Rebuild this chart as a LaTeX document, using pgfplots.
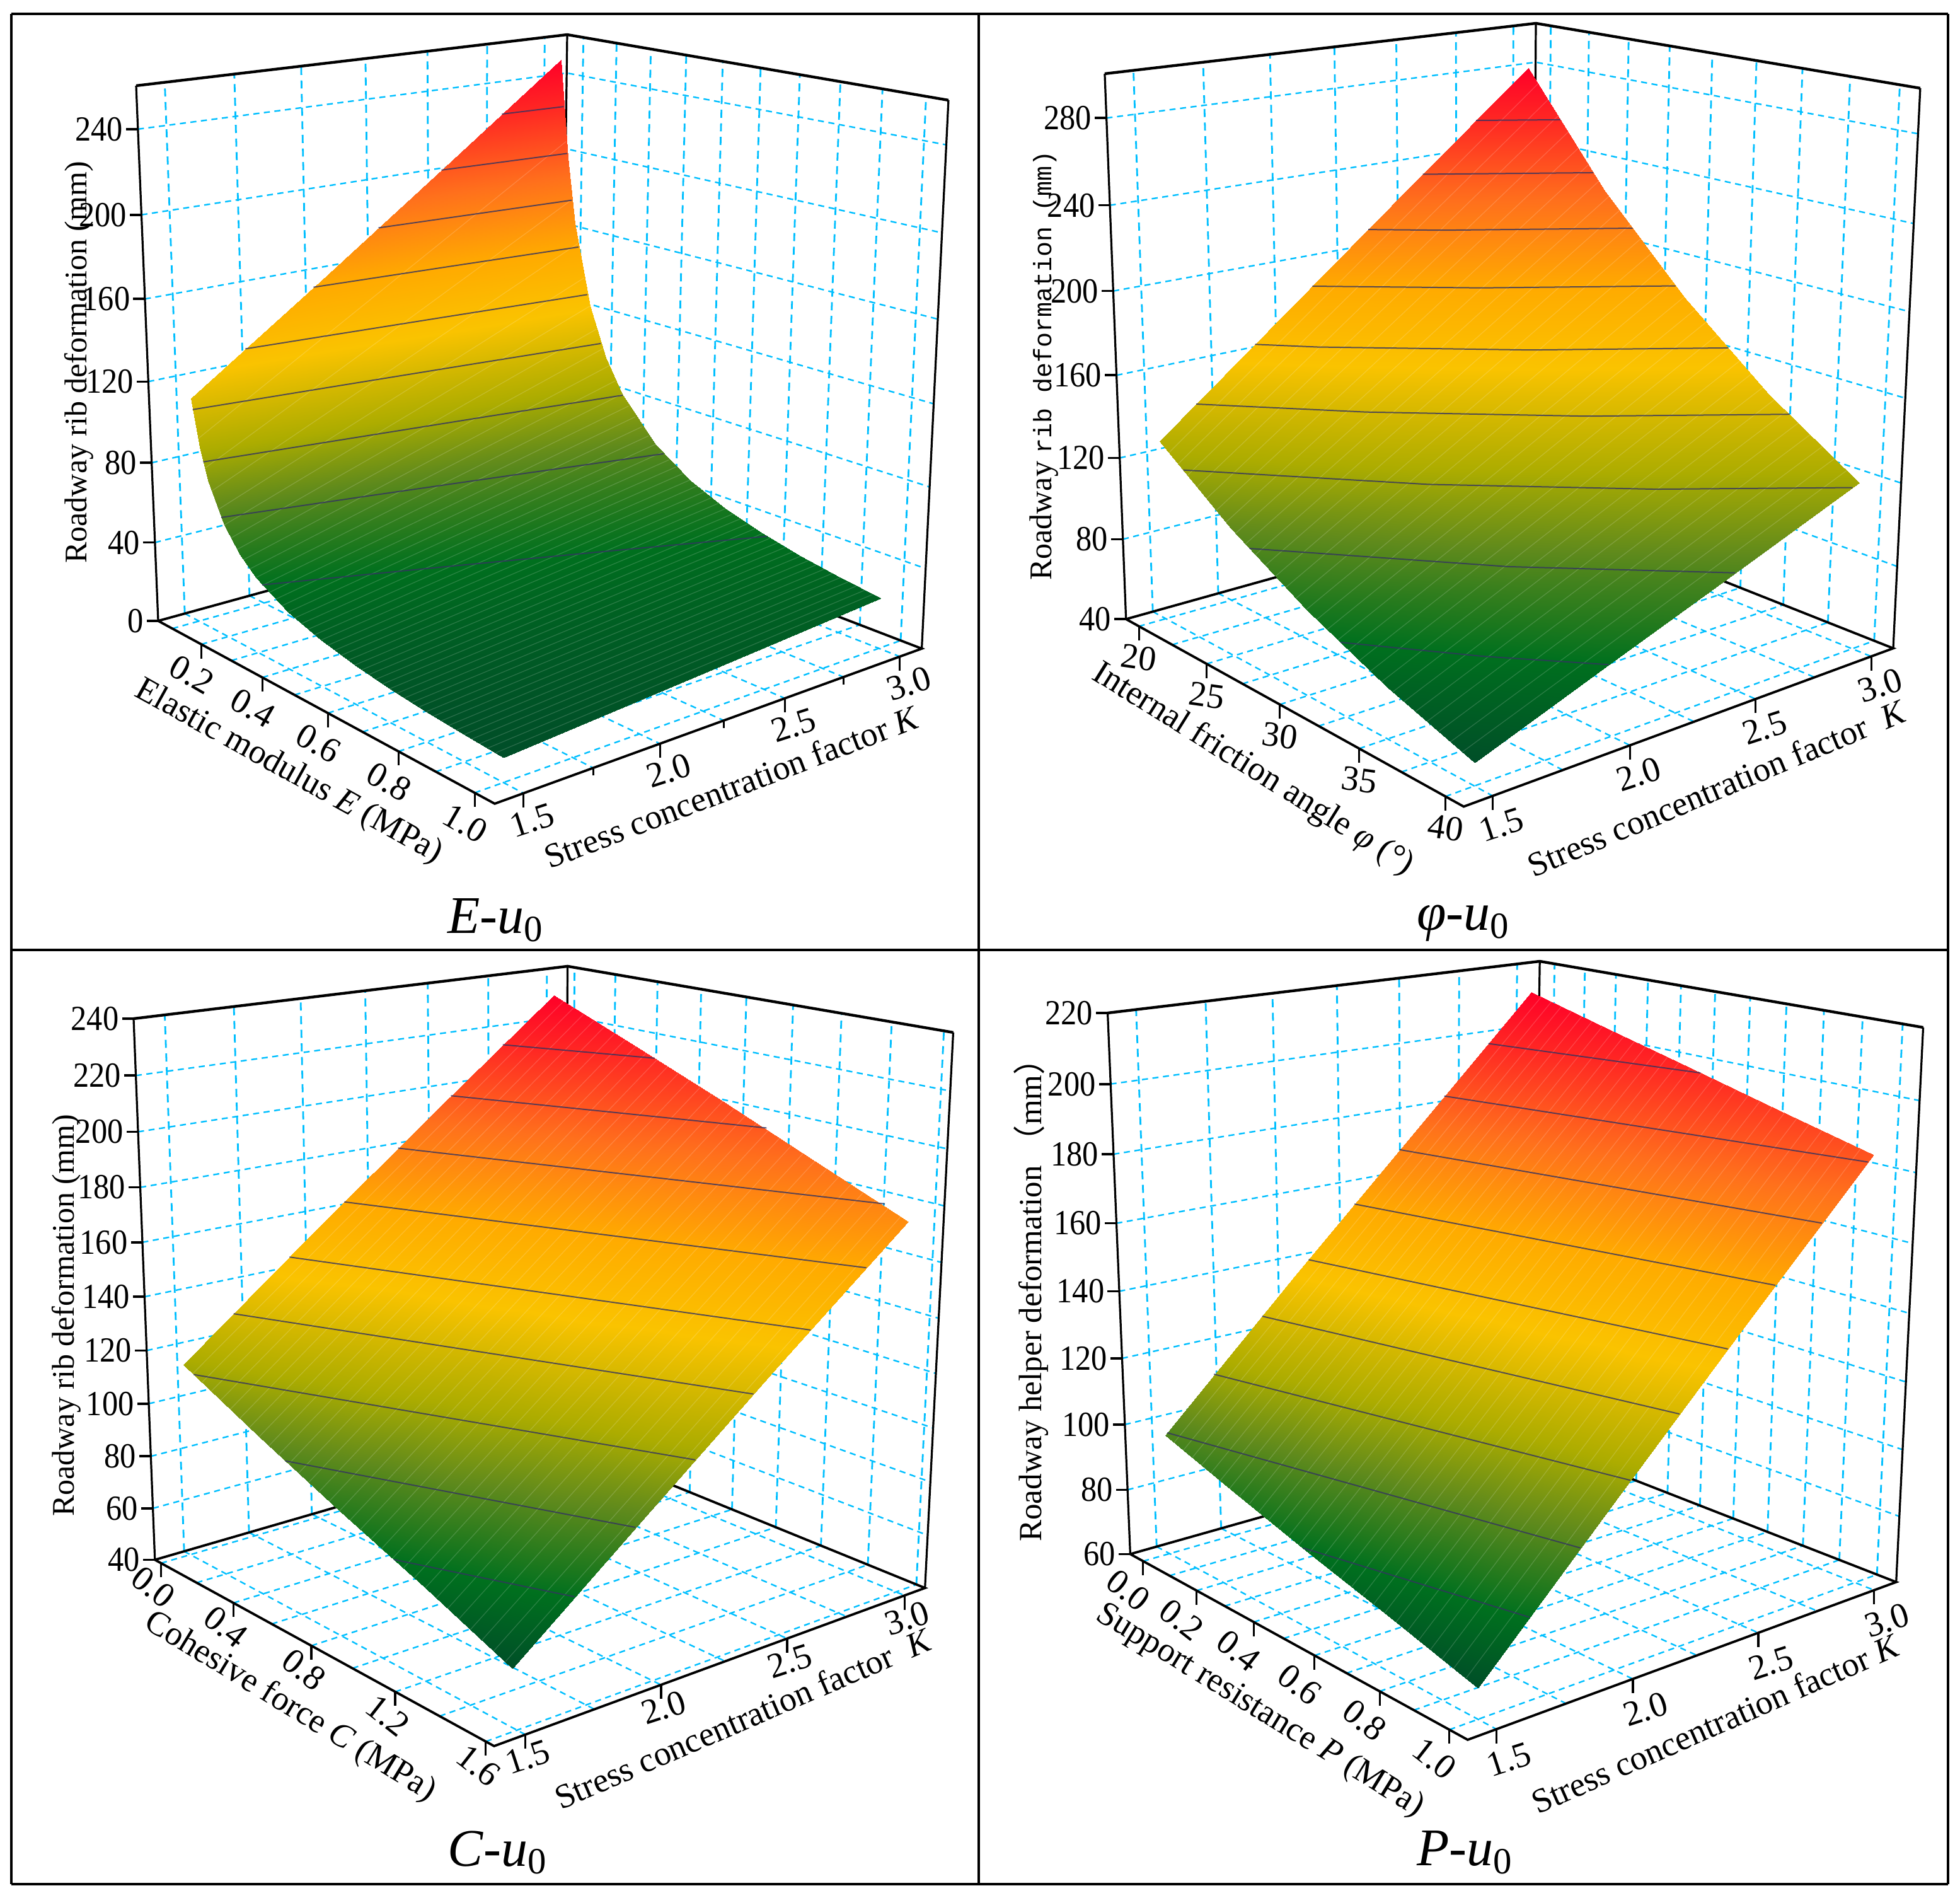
\documentclass[border=0pt]{standalone}
\usepackage{fontspec}
\setmainfont{Liberation Serif}
\newfontfamily\cjk{Noto Sans CJK SC}
\newfontfamily\lmono{Liberation Mono}
\usepackage{pgfplots}
\usepackage{pgfplotstable}
\pgfplotsset{compat=1.18}

% ---- perspective of the box: numbers are corner pixels of each panel
\newcommand\setpts[8]{\gdef\Bx{#1}\gdef\By{#2}\gdef\Lx{#3}\gdef\Ly{#4}\gdef\Rx{#5}\gdef\Ry{#6}\gdef\Fx{#7}\gdef\Fy{#8}}
\newcommand\settop[7]{\gdef\BTx{#1}\gdef\BTy{#2}\gdef\LTx{#3}\gdef\LTy{#4}\gdef\RTx{#5}\gdef\RTy{#6}\gdef\rr{#7}}
\newcommand\setlim[6]{\gdef\Kmin{#1}\gdef\Kmax{#2}\gdef\Xmin{#3}\gdef\Xmax{#4}\gdef\Zmin{#5}\gdef\Zmax{#6}}
\newcommand\computecam{%
 \xdef\detv{\fpeval{(\Fx-\Lx)*(\Fy-\Ry)-(\Fx-\Rx)*(\Fy-\Ly)}}%
 \xdef\rhx{\fpeval{\Lx+\Rx-\Bx-\Fx}}\xdef\rhy{\fpeval{\Ly+\Ry-\By-\Fy}}%
 \xdef\pp{\fpeval{round((\rhx*(\Fy-\Ry)-(\Fx-\Rx)*\rhy)/\detv,5)}}%
 \xdef\qq{\fpeval{round(((\Fx-\Lx)*\rhy-(\Fy-\Ly)*\rhx)/\detv,5)}}%
 \xdef\Ux{\fpeval{round(\Lx*(1+\pp)-\Bx,3)}}\xdef\Uy{\fpeval{round(\Ly*(1+\pp)-\By,3)}}%
 \xdef\Vx{\fpeval{round(\Rx*(1+\qq)-\Bx,3)}}\xdef\Vy{\fpeval{round(\Ry*(1+\qq)-\By,3)}}%
 \xdef\Wx{\fpeval{round(\BTx*(1+\rr)-\Bx,3)}}\xdef\Wy{\fpeval{round(\BTy*(1+\rr)-\By,3)}}%
 \xdef\dLx{\fpeval{round(\LTx-(\Bx+\Ux+\Wx)/(1+\pp+\rr),3)}}\xdef\dLy{\fpeval{round(\LTy-(\By+\Uy+\Wy)/(1+\pp+\rr),3)}}%
 \xdef\dRx{\fpeval{round(\RTx-(\Bx+\Vx+\Wx)/(1+\qq+\rr),3)}}\xdef\dRy{\fpeval{round(\RTy-(\By+\Vy+\Wy)/(1+\qq+\rr),3)}}%
}
\newcommand\cu[1]{((\Kmax-(#1))/(\Kmax-\Kmin))}
\newcommand\cv[1]{(((#1)-\Xmin)/(\Xmax-\Xmin))}
\newcommand\cc[1]{(((#1)-\Zmin)/(\Zmax-\Zmin))}
\newcommand\camXe[3]{((\Bx+\Ux*#1+\Vx*#2+\Wx*#3)/(1+\pp*#1+\qq*#2+\rr*#3)+#3*(#1*\dLx+#2*\dRx))}
\newcommand\camYe[3]{(3011-((\By+\Uy*#1+\Vy*#2+\Wy*#3)/(1+\pp*#1+\qq*#2+\rr*#3)+#3*(#1*\dLy+#2*\dRy)))}
\newcommand\TX[3]{\fpeval{\camXe{\cu{#1}}{\cv{#2}}{\cc{#3}}}}
\newcommand\TY[3]{\fpeval{\camYe{\cu{#1}}{\cv{#2}}{\cc{#3}}}}
\newcommand\Pt[3]{(axis cs:{\TX{#1}{#2}{#3}},{\TY{#1}{#2}{#3}},0)}
\newcommand\Px[2]{(axis cs:{#1},{\fpeval{3011-#2}},0)}

\pgfplotsset{
 table/camt/.style={
  x expr={\camXe{\cu{\thisrow{K}}}{\cv{\thisrow{X}}}{\cc{\thisrow{U}}}},
  y expr={\camYe{\cu{\thisrow{K}}}{\cv{\thisrow{X}}}{\cc{\thisrow{U}}}},
  z=U},
 panel/.style n args={4}{
  at={(\fpeval{#1*0.25}pt,\fpeval{(3011-#4)*0.25}pt)},anchor=south west,
  scale only axis,width=\fpeval{(#3-#1)*0.25}pt,height=\fpeval{(#4-#2)*0.25}pt,
  xmin=#1,xmax=#3,ymin=\fpeval{3011-#4},ymax=\fpeval{3011-#2},
  view={0}{90},xtick=\empty,ytick=\empty,ztick=\empty,
  axis line style={line width=1.18pt,black},clip=false},
 colormap={ug}{rgb255(0cm)=(0,78,40);rgb255(10cm)=(0,112,30);rgb255(22cm)=(95,138,28);rgb255(32cm)=(172,172,0);
   rgb255(47cm)=(250,195,0);rgb255(60cm)=(255,170,0);rgb255(75cm)=(255,112,28);rgb255(90cm)=(255,40,35);rgb255(100cm)=(255,0,40)},
}
\definecolor{gridc}{RGB}{0,191,255}
\tikzset{
 gv/.style={draw=gridc,line width=.7pt,dash pattern=on 3.2pt off 2.2pt,mark=none},
 gh/.style={draw=gridc,line width=.6pt,dash pattern=on 2.4pt off 1.8pt,mark=none},
 ftop/.style={draw=black,line width=1.1pt,mark=none},
 fver/.style={draw=black,line width=.8pt,mark=none},
 fbot/.style={draw=black,line width=.95pt,mark=none},
 tk/.style={draw=black,line width=.8pt},
 ctrline/.style={draw=black!70!blue!60!gray,line width=.5pt,opacity=.8,mark=none},
 stripe/.style={draw=white,opacity=.17,line width=.3pt,mark=none},
}
\newcommand\tlf{\fontsize{14}{14}\selectfont}
\newcommand\ttf{\fontsize{13.6}{14}\selectfont}
\newcommand\ytf{\fontsize{12.5}{14}\selectfont}
\newcommand\plf{\fontsize{21}{21}\selectfont}

\newcommand\ctr[1]{\addplot3[ctrline] table[camt,row sep=\\]{K X U\\ #1};}
% thin lines of the fine mesh: from K=1.5 (column A) to K=3 (column B)
\newcommand\stripes[1]{\addplot3[stripe,quiver={
   u={\camXe{\cu{3}}{\cv{\thisrow{X}}}{\cc{\thisrow{B}}}-\camXe{\cu{1.5}}{\cv{\thisrow{X}}}{\cc{\thisrow{A}}}},
   v={\camYe{\cu{3}}{\cv{\thisrow{X}}}{\cc{\thisrow{B}}}-\camYe{\cu{1.5}}{\cv{\thisrow{X}}}{\cc{\thisrow{A}}}},
   w={\thisrow{B}-\thisrow{A}}}] table[
   x expr={\camXe{\cu{1.5}}{\cv{\thisrow{X}}}{\cc{\thisrow{A}}}},
   y expr={\camYe{\cu{1.5}}{\cv{\thisrow{X}}}{\cc{\thisrow{A}}}},z=A]{#1};}
% Kmin Kmax Xmin Xmax Zmin Zmax | K lines | X lines | Z lines
\newcommand\panelgrid[9]{%
 \pgfplotsinvokeforeach{#7}{%
  \addplot3[gv] table[camt,row sep=\\]{K X U\\ ##1 #3 #5\\ ##1 #3 #6\\};
  \addplot3[gh] table[camt,row sep=\\]{K X U\\ ##1 #3 #5\\ ##1 #4 #5\\};}%
 \pgfplotsinvokeforeach{#8}{%
  \addplot3[gv] table[camt,row sep=\\]{K X U\\ #2 ##1 #5\\ #2 ##1 #6\\};
  \addplot3[gh] table[camt,row sep=\\]{K X U\\ #1 ##1 #5\\ #2 ##1 #5\\};}%
 \pgfplotsinvokeforeach{#9}{%
  \addplot3[gh] table[camt,row sep=\\]{K X U\\ #1 #3 ##1\\ #2 #3 ##1\\ #2 #4 ##1\\};}%
 \addplot3[ftop] table[camt,row sep=\\]{K X U\\ #1 #3 #6\\ #2 #3 #6\\ #2 #4 #6\\};
 \addplot3[fver] table[camt,row sep=\\]{K X U\\ #1 #3 #5\\ #1 #3 #6\\};
 \addplot3[fver] table[camt,row sep=\\]{K X U\\ #2 #3 #5\\ #2 #3 #6\\};
 \addplot3[fver] table[camt,row sep=\\]{K X U\\ #2 #4 #5\\ #2 #4 #6\\};
 \addplot3[fbot] table[camt,row sep=\\]{K X U\\ #1 #3 #5\\ #2 #3 #5\\ #2 #4 #5\\ #1 #4 #5\\ #1 #3 #5\\};
}
% tick marks and labels
\newcommand\zticks[1]{\pgfplotsinvokeforeach{#1}{%
  \draw[tk,line width=.9pt] \Pt{\Kmin}{\Xmin}{##1} -- ++(-4.6pt,0pt) node[anchor=east,inner sep=1pt,font=\tlf,xscale=.9]{##1};}}
\newcommand\xticks[4]{\pgfplotsinvokeforeach{#1}{%
  \draw[tk] \Pt{\Kmin}{##1}{\Zmin} -- ++(0pt,-5.6pt);
  \node[xshift=#2*0.25pt,yshift=-#3*0.25pt,rotate=#4,inner sep=0pt,font=\tlf] at \Pt{\Kmin}{##1}{\Zmin} {##1};}}
\newcommand\kticks[4]{\pgfplotsinvokeforeach{#1}{%
  \draw[tk] \Pt{##1}{\Xmax}{\Zmin} -- ++(0pt,-5.6pt);
  \node[xshift=#2*0.25pt,yshift=-#3*0.25pt,rotate=#4,inner sep=0pt,font=\tlf] at \Pt{##1}{\Xmax}{\Zmin} {##1};}}

% ---- surfaces: K, second parameter, deformation
\pgfplotstableread{
K X U
1.5 0.1 112
2 0.1 157
2.5 0.1 203
3 0.1 250
1.5 0.125 89.6
2 0.125 125.6
2.5 0.125 162.4
3 0.125 200
1.5 0.15 74.7
2 0.15 104.7
2.5 0.15 135.3
3 0.15 166.7
1.5 0.2 56
2 0.2 78.5
2.5 0.2 101.5
3 0.2 125
1.5 0.25 44.8
2 0.25 62.8
2.5 0.25 81.2
3 0.25 100
1.5 0.3 37.3
2 0.3 52.3
2.5 0.3 67.7
3 0.3 83.3
1.5 0.4 28
2 0.4 39.3
2.5 0.4 50.8
3 0.4 62.5
1.5 0.5 22.4
2 0.5 31.4
2.5 0.5 40.6
3 0.5 50
1.5 0.6 18.7
2 0.6 26.2
2.5 0.6 33.8
3 0.6 41.7
1.5 0.7 16
2 0.7 22.4
2.5 0.7 29
3 0.7 35.7
1.5 0.8 14
2 0.8 19.6
2.5 0.8 25.4
3 0.8 31.3
1.5 0.9 12.4
2 0.9 17.4
2.5 0.9 22.6
3 0.9 27.8
1.5 1.0 11.2
2 1.0 15.7
2.5 1.0 20.3
3 1.0 25
}\tabE
\pgfplotstableread{
K X U
1.5 20 128
2 20 178.7
2.5 20 229.3
3 20 280
1.5 25 101.4
2 25 143.3
2.5 25 185
3 25 226.8
1.5 30 80.2
2 30 114.7
2.5 30 149.1
3 30 183.6
1.5 35 63.5
2 35 91.9
2.5 35 120.3
3 35 148.7
1.5 40 50.3
2 40 73.7
2.5 40 97
3 40 120.4
}\tabF
\pgfplotstableread{
K X U
1.5 0 113
2 0 152
2.5 0 191
3 0 230
1.5 0.4 98.5
2 0.4 137.7
2.5 0.4 176.8
3 0.4 216.1
1.5 0.8 85
2 0.8 124
2.5 0.8 163.1
3 0.8 202.2
1.5 1.2 72.5
2 1.2 111
2.5 1.2 149.7
3 1.2 188.2
1.5 1.58 60
2 1.58 98.3
2.5 1.58 136.7
3 1.58 175
}\tabC
\pgfplotstableread{
K X U
1.5 0 96.6
2 0 135.1
2.5 0 173.5
3 0 212
1.5 0.25 89.3
2 0.25 127.9
2.5 0.25 166.6
3 0.25 205.25
1.5 0.5 82.3
2 0.5 121
2.5 0.5 159.8
3 0.5 198.5
1.5 0.75 75.4
2 0.75 114.2
2.5 0.75 153
3 0.75 191.75
1.5 1 68.5
2 1 107.3
2.5 1 146.2
3 1 185
}\tabP
% ---- fine mesh lines: parameter, deformation at K=1.5, deformation at K=3
\pgfplotstableread{
X A B
0.12 93.3 208.3
0.14 80 178.6
0.16 70 156.3
0.18 62.2 138.9
0.20 56 125
0.22 50.9 113.6
0.24 46.7 104.2
0.26 43.1 96.2
0.28 40 89.3
0.30 37.3 83.3
0.32 35 78.1
0.34 32.9 73.5
0.36 31.1 69.4
0.38 29.5 65.8
0.40 28 62.5
0.42 26.7 59.5
0.44 25.5 56.8
0.46 24.3 54.3
0.48 23.3 52.1
0.50 22.4 50
0.52 21.5 48.1
0.54 20.7 46.3
0.56 20 44.6
0.58 19.3 43.1
0.60 18.7 41.7
0.62 18.1 40.3
0.64 17.5 39.1
0.66 17 37.9
0.68 16.5 36.8
0.70 16 35.7
0.72 15.6 34.7
0.74 15.1 33.8
0.76 14.7 32.9
0.78 14.4 32.1
0.80 14 31.3
0.82 13.7 30.5
0.84 13.3 29.8
0.86 13 29.1
0.88 12.7 28.4
0.90 12.4 27.8
0.92 12.2 27.2
0.94 11.9 26.6
0.96 11.7 26
0.98 11.4 25.5
}\mshE
\pgfplotstableread{
X A B
20.67 124.4 272.9
21.33 120.9 265.8
22 117.4 258.7
22.67 113.8 251.6
23.33 110.3 244.5
24 106.7 237.4
24.67 103.2 230.3
25.33 100 224
26 97.2 218.2
26.67 94.3 212.4
27.33 91.5 206.7
28 88.7 200.9
28.67 85.8 195.1
29.33 83 189.4
30 80.2 183.6
30.67 78 178.9
31.33 75.8 174.3
32 73.5 169.6
32.67 71.3 165
33.33 69.1 160.4
34 66.8 155.7
34.67 64.6 151
35.33 62.6 146.8
36 60.9 143
36.67 59.1 139.2
37.33 57.3 135.5
38 55.6 131.7
38.67 53.8 127.9
39.33 52.1 124.2
}\mshF
\pgfplotstableread{
X A B
0.05 111.2 228.3
0.1 109.4 226.5
0.15 107.6 224.8
0.2 105.8 223
0.25 103.9 221.3
0.3 102.1 219.5
0.35 100.3 217.8
0.4 98.5 216.1
0.45 96.8 214.4
0.5 95.1 212.6
0.55 93.4 210.9
0.6 91.8 209.2
0.65 90.1 207.4
0.7 88.4 205.7
0.75 86.7 203.9
0.8 85 202.2
0.85 83.4 200.5
0.9 81.9 198.7
0.95 80.3 197
1.0 78.8 195.2
1.05 77.2 193.4
1.1 75.6 191.7
1.15 74.1 189.9
1.2 72.5 188.2
1.25 70.9 186.4
1.3 69.2 184.7
1.35 67.6 183
1.4 65.9 181.2
1.45 64.3 179.5
1.5 62.6 177.7
1.55 61 176
}\mshC
\pgfplotstableread{
X A B
0.033 95.6 211.1
0.067 94.6 210.2
0.1 93.7 209.3
0.133 92.7 208.4
0.167 91.7 207.5
0.2 90.8 206.6
0.233 89.8 205.7
0.267 88.8 204.8
0.3 87.9 203.9
0.333 87 203
0.367 86.1 202.1
0.4 85.1 201.2
0.433 84.2 200.3
0.467 83.2 199.4
0.5 82.3 198.5
0.533 81.4 197.6
0.567 80.5 196.7
0.6 79.5 195.8
0.633 78.6 194.9
0.667 77.7 194
0.7 76.8 193.1
0.733 75.9 192.2
0.767 74.9 191.3
0.8 74 190.4
0.833 73.1 189.5
0.867 72.2 188.6
0.9 71.3 187.7
0.933 70.4 186.8
0.967 69.4 185.9
}\mshP

\begin{document}
\begin{tikzpicture}
\path[use as bounding box] (0,0) rectangle (777.5pt,752.75pt);

% ======== E-u0
\setpts{890}{809}{251}{985}{1462.5}{1029}{785}{1275}
\settop{900}{55}{216}{136}{1505}{159}{-0.05}
\setlim{1.4}{3.1}{0.05}{1.05}{0}{260}
\computecam
\begin{axis}[panel={18}{22}{1553}{1507},point meta min=11.2,point meta max=250,colormap name=ug]
\panelgrid{1.4}{3.1}{0.05}{1.05}{0}{260}{1.5,1.75,2,2.25,2.5,2.75,3}{0.1,0.2,0.3,0.4,0.5,0.6,0.7,0.8,0.9,1.0}{40,80,120,160,200,240}
\addplot3[surf,shader=interp,mesh/rows=13,mesh/cols=4] table[camt]{\tabE};
\stripes{\mshE}
\ctr{1.5 0.319 35.1\\ 2 0.447 35.1\\ 2.5 0.578 35.1\\ 3 0.712 35.1\\}
\ctr{1.5 0.19 59\\ 2 0.266 59\\ 2.5 0.344 59\\ 3 0.424 59\\}
\ctr{1.5 0.135 82.8\\ 2 0.19 82.8\\ 2.5 0.245 82.8\\ 3 0.302 82.8\\}
\ctr{1.5 0.105 106.7\\ 2 0.147 106.7\\ 2.5 0.19 106.7\\ 3 0.234 106.7\\}
\ctr{1.707 0.1 130.6\\ 2 0.12 130.6\\ 2.5 0.155 130.6\\ 3 0.191 130.6\\}
\ctr{1.972 0.1 154.5\\ 2.5 0.131 154.5\\ 3 0.162 154.5\\}
\ctr{2.232 0.1 178.3\\ 2.5 0.114 178.3\\ 3 0.14 178.3\\}
\ctr{2.491 0.1 202.2\\ 3 0.124 202.2\\}
\ctr{2.746 0.1 226.1\\ 3 0.111 226.1\\}
\zticks{0,40,80,120,160,200,240}
\xticks{0.2,0.4,0.6,0.8,1.0}{-15}{48}{-30}
\kticks{1.5,2.0,2.5,3.0}{14}{43}{18}
\pgfplotsinvokeforeach{1.75,2.25,2.75}{\draw[tk] \Pt{#1}{\Xmax}{\Zmin} -- ++(0pt,-3pt);}
\node[rotate=-29,font=\ttf] at \Px{458}{1225} {Elastic modulus \textit{E} (MPa)};
\node[rotate=21,font=\ttf] at \Px{1161}{1248} {Stress concentration factor \textit{K}};
\node[rotate=90,font=\ytf] at \Px{125}{575} {Roadway rib deformation (mm)};
\node[font=\plf] at \Px{787}{1460} {\textit{E}-\textit{u}\textsubscript{0}};
\end{axis}

% ======== phi-u0
\setpts{2432}{802}{1786.6}{982.2}{3004}{1028.5}{2322.5}{1279.6}
\settop{2437}{37}{1753}{117}{3047}{140}{-0.05}
\setlim{1.4}{3.1}{19}{41}{40}{300}
\computecam
\begin{axis}[panel={1553}{22}{3091}{1507},point meta min=50.3,point meta max=280,colormap name=ug]
\panelgrid{1.4}{3.1}{19}{41}{40}{300}{1.5,1.75,2,2.25,2.5,2.75,3}{20,22.5,25,27.5,30,32.5,35,37.5,40}{80,120,160,200,240,280}
\addplot3[surf,shader=interp,mesh/rows=5,mesh/cols=4] table[camt]{\tabF};
\stripes{\mshF}
\ctr{1.5 32.16 73\\ 1.75 36.5 73\\ 1.986 40 73\\}
\ctr{1.5 26.27 96\\ 2 34.1 96\\ 2.478 40 96\\}
\ctr{1.5 21.69 119\\ 2 29.25 119\\ 2.5 35.28 119\\ 2.97 40 119\\}
\ctr{1.638 20 142\\ 2 25.23 142\\ 2.5 31.23 142\\ 3 36.18 142\\}
\ctr{1.865 20 165\\ 2 21.94 165\\ 2.5 27.79 165\\ 3 32.66 165\\}
\ctr{2.092 20 188\\ 2.5 24.66 188\\ 3 29.49 188\\}
\ctr{2.319 20 211\\ 2.5 22.07 211\\ 3 26.83 211\\}
\ctr{2.546 20 234\\ 3 24.32 234\\}
\ctr{2.773 20 257\\ 3 22.16 257\\}
\zticks{40,80,120,160,200,240,280}
\xticks{20,25,30,35,40}{0}{50}{-8}
\kticks{1.5,2.0,2.5,3.0}{14}{46}{18}
\node[rotate=-32,font=\ttf] at \Px{1988}{1221} {Internal friction angle \textit{φ} (°)};
\node[rotate=22.8,font=\ttf] at \Px{2724}{1250} {Stress concentration factor~~\textit{K}};
\node[rotate=90,font=\ytf] at \Px{1657}{580} {Roadway {\lmono\fontsize{10}{12}\selectfont rib deformation (mm)}};
\node[font=\plf] at \Px{2322}{1465} {\textit{φ}-\textit{u}\textsubscript{0}};
\end{axis}

% ======== C-u0
\setpts{895}{2286}{245.8}{2474.5}{1467.7}{2519.3}{784}{2770}
\settop{900.6}{1533}{212}{1616}{1512.5}{1638}{-0.05}
\setlim{1.39}{3.09}{-0.035}{1.635}{40}{240}
\computecam
\begin{axis}[panel={18}{1507}{1553}{2989},point meta min=60,point meta max=230,colormap name=ug]
\panelgrid{1.39}{3.09}{-0.035}{1.635}{40}{240}{1.5,1.75,2,2.25,2.5,2.75,3}{0,0.2,0.4,0.6,0.8,1.0,1.2,1.4,1.6}{60,80,100,120,140,160,180,200,220}
\addplot3[surf,shader=interp,mesh/rows=5,mesh/cols=4] table[camt]{\tabC};
\stripes{\mshC}
\ctr{1.5 1.056 77\\ 1.722 1.58 77\\}
\ctr{1.5 0.533 94\\ 1.943 1.58 94\\}
\ctr{1.5 0.055 111\\ 2.165 1.58 111\\}
\ctr{1.692 0 128\\ 2.387 1.58 128\\}
\ctr{1.91 0 145\\ 2.609 1.58 145\\}
\ctr{2.128 0 162\\ 2.83 1.58 162\\}
\ctr{2.346 0 179\\ 3 1.486 179\\}
\ctr{2.564 0 196\\ 3 0.993 196\\}
\ctr{2.782 0 213\\ 3 0.489 213\\}
\zticks{40,60,80,100,120,140,160,180,200,220,240}
\xticks{0.0,0.4,0.8,1.2,1.6}{-12}{38}{-38}
\kticks{1.5,2.0,2.5,3.0}{4}{36}{18}
\node[rotate=-31.4,font=\ttf] at \Px{460}{2708} {Cohesive force \textit{C} (MPa)};
\node[rotate=23.4,font=\ttf] at \Px{1179}{2726} {Stress concentration factor~~\textit{K}};
\node[rotate=90,font=\ytf] at \Px{105}{2087} {Roadway rib deformation (mm)};
\node[font=\plf] at \Px{790}{2939} {\textit{C}-\textit{u}\textsubscript{0}};
\end{axis}

% ======== P-u0
\setpts{2432}{2285}{1793.4}{2465.4}{3008.8}{2509.8}{2328.8}{2760}
\settop{2443.3}{1525}{1757.5}{1607}{3051.5}{1630}{-0.05}
\setlim{1.4}{3.1}{-0.05}{1.05}{60}{220}
\computecam
\begin{axis}[panel={1553}{1507}{3091}{2989},point meta min=68.5,point meta max=212,colormap name=ug]
\panelgrid{1.4}{3.1}{-0.05}{1.05}{60}{220}{1.5,1.75,2,2.25,2.5,2.75,3}{0,0.1,0.2,0.3,0.4,0.5,0.6,0.7,0.8,0.9,1.0}{80,100,120,140,160,180,200}
\addplot3[surf,shader=interp,mesh/rows=5,mesh/cols=4] table[camt]{\tabP};
\stripes{\mshP}
\ctr{1.5 0.48 82.85\\ 1.685 1 82.85\\}
\ctr{1.508 0 97.2\\ 1.87 1 97.2\\}
\ctr{1.69 0 111.55\\ 2.054 1 111.55\\}
\ctr{1.881 0 125.9\\ 2.239 1 125.9\\}
\ctr{2.067 0 140.25\\ 2.424 1 140.25\\}
\ctr{2.254 0 154.6\\ 2.609 1 154.6\\}
\ctr{2.44 0 168.95\\ 2.793 1 168.95\\}
\ctr{2.627 0 183.3\\ 2.978 1 183.3\\}
\ctr{2.814 0 197.65\\ 3 0.531 197.65\\}
\zticks{60,80,100,120,140,160,180,200,220}
\xticks{0.0,0.2,0.4,0.6,0.8,1.0}{-24}{46}{-38}
\kticks{1.5,2.0,2.5,3.0}{20}{48}{18}
\node[rotate=-31.6,font=\ttf] at \Px{1999}{2714} {Support resistance \textit{P} (MPa)};
\node[rotate=23.8,font=\ttf] at \Px{2722}{2734} {Stress concentration factor \textit{K}};
\node[rotate=90,font=\fontsize{12.8}{14}\selectfont] at \Px{1636}{2050} {Roadway helper deformation {\cjk （}mm{\cjk ）}};
\node[font=\plf] at \Px{2325}{2939} {\textit{P}-\textit{u}\textsubscript{0}};
\end{axis}
\end{tikzpicture}
\end{document}
